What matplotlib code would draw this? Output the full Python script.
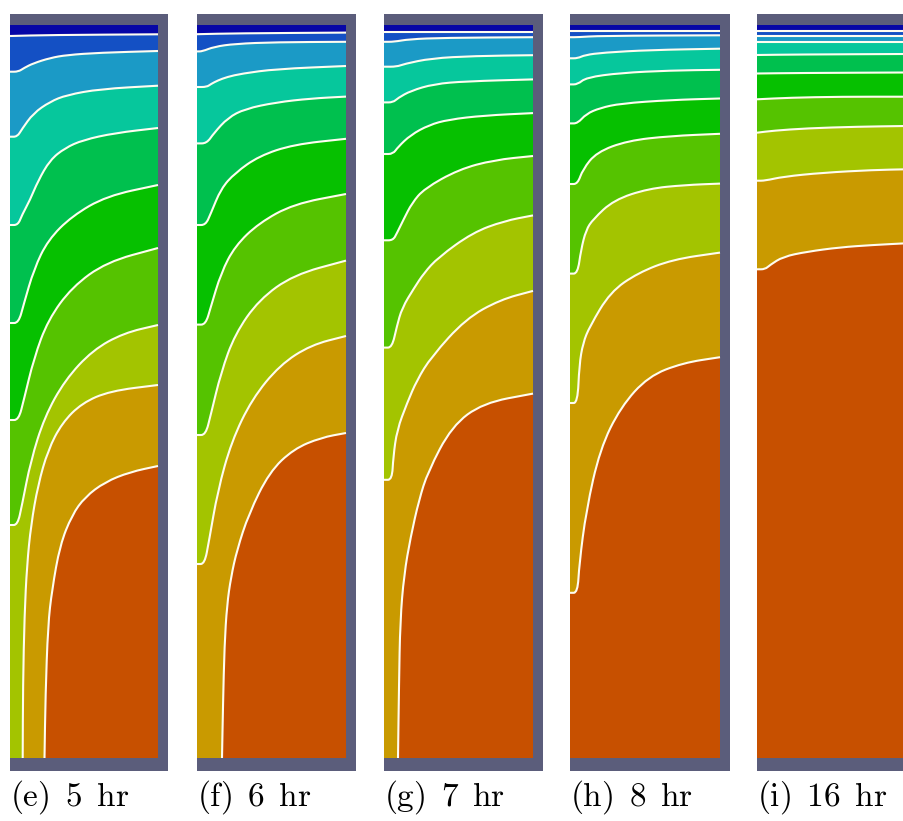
import numpy as np
import matplotlib.pyplot as plt
from matplotlib.path import Path
from matplotlib.patches import PathPatch

plt.rcParams['mathtext.fontset'] = 'cm'

labels = ['(e) 5 hr', '(f) 6 hr', '(g) 7 hr', '(h) 8 hr', '(i) 16 hr']
band_colors = ['#0606a6', '#1450c4', '#1b9ac6', '#06c79c', '#00c04e',
               '#06c000', '#55c300', '#a3c400', '#c99a00', '#c75000']
depth = 733
widths = [148, 149, 149, 150, 149]

# isotherm lines, top to bottom, as (x, depth) points
iso_e = [
    [(0, 11), (40, 10), (148, 9.3)],
    [(0, 46.7), (8.3, 46.7), (14, 43), (23.3, 38.3), (40, 33), (56.7, 30), (90, 27.7), (148, 26)],
    [(0, 111.7), (7.3, 111.7), (12, 104), (23.3, 88.3), (40, 76.7), (56.7, 70), (90, 64), (148, 60.7)],
    [(0, 200), (8, 200), (12, 190), (20, 175), (28, 156), (40, 135), (55, 123), (73, 115), (105, 108), (148, 103)],
    [(0, 298), (8.6, 298), (13.8, 279), (24, 244), (38, 215), (62, 191), (96.6, 171), (148, 160)],
    [(0, 395), (8.6, 395), (13.8, 375), (24, 333), (38, 295), (62, 262), (96.6, 237), (148, 223)],
    [(0, 500), (7.6, 500), (12, 480), (20.7, 436), (34.5, 392), (55, 355), (82.8, 325), (113.8, 308), (148, 300)],
    [(12.7, 733), (13, 660), (14.5, 590), (17, 540), (21, 500), (28, 460), (38, 425), (52, 398), (72, 378), (100, 366), (148, 360)],
    [(34.5, 733), (35.5, 670), (38, 600), (42, 565), (50, 520), (62, 490), (75, 472), (95, 457), (120, 447), (148, 441)],
]
iso_f = [
    [(0, 9.2), (40, 8.3), (149, 7.6)],
    [(0, 26.4), (5.2, 26.4), (17, 21.8), (38, 18.8), (79, 17.2), (149, 16.8)],
    [(0, 62), (9.7, 62), (14, 59), (20.7, 55.5), (30, 52), (44.8, 48.6), (79, 44), (149, 41)],
    [(0, 118.4), (9.7, 118.4), (17, 108), (31, 92.7), (48, 83.9), (79, 77.4), (113.8, 73.5), (149, 71.6)],
    [(0, 200), (8.6, 200), (13.8, 188.5), (24, 163.6), (38, 148), (62, 131), (96.6, 119.5), (149, 113.8)],
    [(0, 299.6), (8.6, 299.6), (13.8, 282), (24, 248), (38, 221), (62, 198), (96.6, 179), (149, 169)],
    [(0, 410), (8.6, 410), (13.8, 389.6), (24, 347.5), (38, 309), (62, 274.7), (96.6, 249.8), (149, 235.6)],
    [(0, 539), (7.6, 539), (12, 516), (20.7, 466), (34.5, 416.5), (55, 374), (82.8, 340), (113.8, 320), (149, 311)],
    [(25, 733), (26, 680), (27.5, 620), (30, 580), (34, 552), (40, 525), (51.7, 489), (72.4, 447), (96.6, 424), (124, 412.6), (149, 408)],
]
iso_g = [
    [(0, 6.5), (149, 6.5)],
    [(0, 16.8), (10, 16.8), (25, 14.2), (60, 12.8), (149, 12.2)],
    [(0, 41.7), (12.8, 41.7), (20, 39), (47.2, 33.3), (90, 31), (149, 30.2)],
    [(0, 77.4), (9, 77.4), (14, 73), (26.6, 65.9), (50, 59), (81.7, 56.3), (149, 54.4)],
    [(0, 129), (9, 129), (14, 122), (26.6, 110), (45, 100), (64.5, 94.6), (100, 90.5), (149, 88.1)],
    [(0, 215.3), (9, 215.3), (13, 208), (19.7, 194.2), (28, 178), (40.3, 163.6), (74.8, 144.4), (110, 135), (149, 131)],
    [(0, 322.6), (8, 322.6), (12.8, 301.5), (18, 283), (30, 263.2), (40, 248), (54.1, 232.5), (88.6, 207.6), (120, 196), (149, 190.4)],
    [(0, 454.8), (8, 454.8), (9.3, 431.8), (13, 405), (23.1, 378), (33, 355), (47.2, 332), (81.7, 293.8), (116.2, 274.7), (149, 265.9)],
    [(14, 733), (15, 660), (16.2, 595.8), (20, 550), (26.6, 512), (35, 475), (43.8, 447), (67.9, 401), (99, 378), (149, 368.6)],
]
iso_h = [
    [(0, 5.7), (150, 5.7)],
    [(0, 12.2), (8, 12.2), (30, 10.8), (150, 10.3)],
    [(0, 33.3), (7.6, 33.3), (15, 30), (33.4, 27.6), (80, 25), (150, 23.7)],
    [(0, 59.4), (7.6, 59.4), (16.2, 52.5), (50.7, 47.9), (100, 45.5), (150, 44.8)],
    [(0, 98.4), (7.6, 98.4), (16.2, 88.9), (30, 83), (50.7, 78.5), (100, 75), (150, 73.5)],
    [(0, 159), (7.6, 159), (12.8, 144.4), (26.6, 127.2), (57.6, 115.7), (100, 111), (150, 108.8)],
    [(0, 248.6), (7.6, 248.6), (11, 224.9), (16, 205), (23.1, 194.2), (43.8, 175), (78.3, 163.6), (115, 160), (150, 158.6)],
    [(0, 378), (7.6, 378), (9.3, 339.8), (13, 318), (19.7, 301.5), (40.3, 267), (67.9, 247.9), (102.4, 234.5), (150, 227.6)],
    [(0, 567.8), (7.6, 567.8), (9.3, 539), (16.2, 485.4), (30, 424.1), (50.7, 382), (78.3, 351.3), (112.8, 337.9), (150, 332.2)],
]
iso_i = [
    [(0, 5.7), (149, 5.7)],
    [(0, 11), (149, 11)],
    [(0, 16.7), (149, 16.7)],
    [(0, 30), (40, 29.5), (149, 29)],
    [(0, 48.5), (40, 48), (149, 47.5)],
    [(0, 74.3), (33, 72.7), (83, 71.7), (149, 71.7)],
    [(0, 107.7), (16, 105.7), (50, 103.3), (100, 101.7), (149, 101)],
    [(0, 155.7), (8, 155.7), (26, 151.7), (66, 147.7), (116, 145), (149, 144.3)],
    [(0, 244.3), (8, 244.3), (13, 240), (26, 231.7), (50, 226.7), (83, 222.3), (116, 220), (149, 218.3)],
]
panels = [iso_e, iso_f, iso_g, iso_h, iso_i]

W, H = 904, 821
lefts = [10, 197, 384, 570, 757]
frame = '#5b5d7b'


def smooth_path(pts):
    # quadratic bezier through the midpoints, read points act as control points
    pts = np.asarray(pts, float)
    verts = [pts[0]]
    codes = [Path.MOVETO]
    if len(pts) == 2:
        verts.append(pts[1])
        codes.append(Path.LINETO)
        return verts, codes
    verts.append((pts[0] + pts[1]) / 2)
    codes.append(Path.LINETO)
    for i in range(1, len(pts) - 1):
        verts += [pts[i], (pts[i] + pts[i + 1]) / 2]
        codes += [Path.CURVE3, Path.CURVE3]
    verts.append(pts[-1])
    codes.append(Path.LINETO)
    return verts, codes


fig = plt.figure(figsize=(W / 100, H / 100), dpi=100)
for left, w, iso, lab in zip(lefts, widths, panels, labels):
    ax = fig.add_axes([left / W, 50 / H, (w + 10) / W, 757 / H])
    ax.set_facecolor(frame)
    ax.set_xlim(0, w + 10)
    ax.set_ylim(depth + 13, -11)
    ax.set_xticks([])
    ax.set_yticks([])
    for s in ax.spines.values():
        s.set_visible(False)

    ax.fill([0, w, w, 0], [0, 0, depth, depth], color=band_colors[-1], lw=0)
    for k in range(len(iso) - 1, -1, -1):
        verts, codes = smooth_path(iso[k])
        first = iso[k][0]
        verts = verts + [(w, 0), (0, 0), (0, first[1]), (0, 0)]
        codes = codes + [Path.LINETO, Path.LINETO, Path.LINETO, Path.CLOSEPOLY]
        ax.add_patch(PathPatch(Path(verts, codes), facecolor=band_colors[k], lw=0))
    for line in iso:
        verts, codes = smooth_path(line)
        ax.add_patch(PathPatch(Path(verts, codes), fill=False,
                               edgecolor='#fffdf0', lw=1.5, joinstyle='round'))

    txt = r'$\mathrm{' + lab.replace(' ', r'\ \,') + '}$'
    fig.text(left / W, 1 - 797 / H, txt, fontsize=24, ha='left', va='center')

fig.savefig('out.png', dpi=100)
